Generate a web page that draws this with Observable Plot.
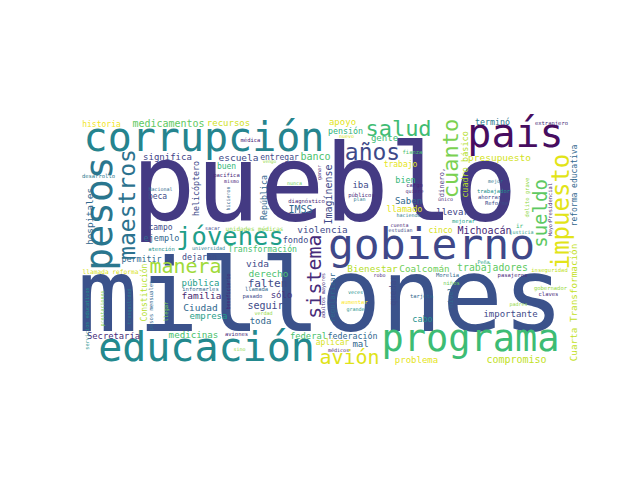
<!DOCTYPE html>
<html><head><meta charset="utf-8">
<script src="https://cdn.jsdelivr.net/npm/d3@7"></script>
<script src="https://cdn.jsdelivr.net/npm/@observablehq/plot@0.6"></script>
<style>html,body{margin:0;padding:0;background:#fff;}</style>
</head><body><div id="chart"></div>
<script>
// Word cloud: words, their rendered sizes, orientation and colour (viridis)
const words = [
  "pueblo","millones","corrupción","país","gobierno","educación","programa","jóvenes","salud","años",
  "manera","avión","medicamentos","historia","recursos","apoyo","pensión","nuevo","médica","gente",
  "terminó","extranjero","presupuesto","fianza","trabajo","bien","cargo","quiere","iba","públicos",
  "plan","Saben","llamado","haciendo","llevar","mejorar","único","mejor","trabajador","ahorrar",
  "Reforma","Michoacán","cinco","ir","justicia","cuenta","estudian","nunca","diagnóstico","IMSS",
  "significa","escuela","entregar","banco","vengo","buen","pacífica","mismo","Nacional","beca",
  "desarrollo","campo","sacar","unidades médicas","ejemplo","atención","universidad","Transformación","violencia","fondo",
  "Bienestar","Coalcomán","trabajadores","Peña","Morelia","robo","pasajeros","inseguridad","niños","gobernador",
  "claves","tarjeta","padres","importante","cabo","veces","aumentar","grande","dejaron","permitir",
  "Secretaría","llamada reforma","pública","informarles","familia","Ciudad","empresa","medicinas","aviones","sino",
  "verdad","toda","seguir","pasado","llamada","sólo","falten","derecho","vida","federal",
  "federación","aplicar","mal","médicos","problema","compromiso",
  "pesos","maestros","cuanto","sueldo","impuesto","sistema","Imagínense","ganar","República","hicieron",
  "helicóptero","dinero,","cuadro básico","delito grave","Presidencial","Mayor","reforma educativa","Cuarta Transformación","nivel","quedar",
  "regularizar","adultos mayores","servicios educativos","prestaciones","tranquilidad","hospitales","Constitución","pesos mensuales","llegar","beneficiario"
];
const fontSizes = [
  107,101,40,40,43,40,37,25.5,22,23,
  20,20,10,8,9,9,8.3,5,5.5,9,
  8.3,5.5,9.5,5.5,8,8.5,5.5,5,9,5.5,
  5,9,8.5,5,9,5.5,5,5,5.5,5.5,
  5.5,10,8,6,5,5,5,5,5.5,10,
  9,9.5,8,10,4.5,8,5.5,5,5,8,
  5.5,8,5,6,8.5,5.5,5,8.2,9.3,8.5,
  9.3,9.3,9.8,5,5.5,5,5.5,5.5,5.5,5.5,
  5.5,5.5,5,9,8.5,5,5.5,5,8.3,8.3,
  8.8,6.2,9,5.5,9.5,9.5,9,9.2,5.5,5,
  5,9,10,5.5,5.5,9,11,9.5,9.5,8.8,
  8.3,8,9,5,9,10,
  38,23,22,19,24,20,10,5,8.3,5,
  8.3,7,8.5,5.5,5.4,5,8,9.3,7,8.5,
  7.5,5,5.2,5,5,9.5,8,5.5,5.5,5
];
const vertical = [
  0,0,0,0,0,0,0,0,0,0,
  0,0,0,0,0,0,0,0,0,0,
  0,0,0,0,0,0,0,0,0,0,
  0,0,0,0,0,0,0,0,0,0,
  0,0,0,0,0,0,0,0,0,0,
  0,0,0,0,0,0,0,0,0,0,
  0,0,0,0,0,0,0,0,0,0,
  0,0,0,0,0,0,0,0,0,0,
  0,0,0,0,0,0,0,0,0,0,
  0,0,0,0,0,0,0,0,0,0,
  0,0,0,0,0,0,0,0,0,0,
  0,0,0,0,0,0,
  1,1,1,1,1,1,1,1,1,1,
  1,1,1,1,1,1,1,1,1,1,
  1,1,1,1,1,1,1,1,1,1
];
const colors = [
  "#443a83","#3b528b","#25848e","#470d60","#3f4889","#23898e","#3dbc74","#1f9e89","#3fbc73","#3e4989",
  "#a0da39","#dfe318","#5ec962","#f1e51d","#d0e11c","#e2e418","#2fb47c","#d8e219","#482475","#3dbc74",
  "#2a788e","#472d7b","#d2e21b","#4ac16d","#e5e419","#35b779","#482475","#482878","#3e4a89","#482878",
  "#2a788e","#31688e","#e2e418","#2a788e","#414487","#20a386","#482878","#2a788e","#21918c","#3e4a89",
  "#3e4a89","#482878","#d8e219","#35b779","#1f9e89","#482878","#3e4a89","#6ece58","#482878","#31688e",
  "#414487","#3e4a89","#3e4a89","#4ac16d","#8fd744","#35b779","#482878","#482878","#31688e","#3e4a89",
  "#2a788e","#3e4a89","#3e4a89","#8fd744","#31688e","#21918c","#2a788e","#4ac16d","#3e4a89","#3e4a89",
  "#b5de2b","#6ece58","#5ec962","#20a386","#31688e","#482878","#482878","#c2df23","#6ece58","#95d840",
  "#482878","#31688e","#8fd744","#3e4a89","#21918c","#21918c","#fde725","#21918c","#3e4a89","#31688e",
  "#472c7a","#d8e219","#1f9e89","#31688e","#481f70","#31688e","#1f9e89","#4ac16d","#482878","#8fd744",
  "#8fd744","#31688e","#3e4a89","#3e4a89","#31688e","#46327e","#3e4a89","#4ac16d","#3e4a89","#4ac16d",
  "#31688e","#d8e219","#31688e","#482878","#e5e419","#c2df23",
  "#2a768e","#2c728e","#7ad151","#5ec962","#e2e418","#472c7a","#3e4a89","#482878","#31688e","#31688e",
  "#3e4a89","#46327e","#b5de2b","#8fd744","#482878","#482878","#31688e","#c2df23","#31688e","#3e4a89",
  "#31688e","#472c7a","#21918c","#7ad151","#2a788e","#31688e","#b5de2b","#31688e","#7ad151","#482878"
];
// Layout of the cloud (cloud-pixel units, 496 x 248): text centre / baseline
const posX = [
  244,240,123.5,435,351,126,390,149.5,318,292,
  105,269,88,21,148,262,265,266,170,304,
  412,471,419,332,320,325,334,334,280,281,
  279,328,324,328,372,383,365,415,413,409,
  416,404,360,439,441,319,320,214,226,220,
  87,158,199,235,189,146,146,151,80,77,
  18,80,132,174,81,81,128,182,242,215,
  292,344,412,403,367,299,432,469,371,470,
  468,341,438,430,342,275,274,275,119,61,
  33,30,120,120,121,120,128,113,156,159,
  183,180,185,172,176,201,187,188,177,228,
  272,252,280,258,336,436,
  31,54,377,466,488,240,251,240,186,149,
  118,363,387,448,471,471,496,496,372,315,
  254,244,8,23,50,12,66,72,87,149
];
const posY = [
  101,212,32,28,140,242,232,126,17,41,
  154,245,8,8,7,6,15,19,23,22,
  6,6,42,35,48,64,68,74,69,78,
  82,85,93,98,96,104,82,64,74,80,
  86,115,114,109,115,108,113,66,84,94,
  41,42,41,41,44,50,58,64,72,80,
  59,111,111,112,122,132,131,133,114,124,
  153,153,152,145,158,158,158,153,166,171,
  177,179,187,198,203,175,185,192,141,143,
  220,155,167,172,180,192,200,219,217,232,
  196,205,190,179,172,179,168,158,148,220,
  220,226,228,233,244,244,
  95,86,40,95,93,158,76,54,79,80,
  70,64,46,79,84,110,67,184,179,172,
  179,177,200,190,188,98,174,187,193,173
];

const data = words.map((w, i) => ({
  word: w, size: fontSizes[i], rot: vertical[i] ? -90 : 0,
  color: colors[i], x: posX[i], y: posY[i]
}));

const chart = Plot.plot({
  width: 640, height: 480,
  marginLeft: 80, marginRight: 64, marginTop: 118, marginBottom: 114,
  style: {background: "#fff"},
  x: {domain: [0, 496], axis: null},
  y: {domain: [0, 248], axis: null, reverse: true},
  marks: [
    Plot.text(data, {
      x: "x", y: "y", text: "word",
      fontSize: d => d.size, rotate: "rot", fill: "color",
      fontFamily: "DejaVu Sans Mono",
      lineAnchor: "bottom", textAnchor: "middle"
    })
  ]
});
document.getElementById("chart").appendChild(chart);
</script></body></html>
